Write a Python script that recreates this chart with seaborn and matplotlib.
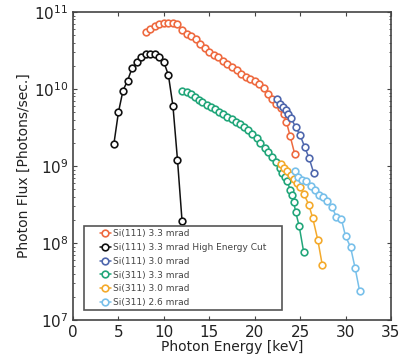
import numpy as np
import pandas as pd
import matplotlib
matplotlib.use("Agg")
import matplotlib.pyplot as plt
import seaborn as sns

# Photon energies [keV] and log10 flux values
si111_33_e = [8.0, 8.5, 9.0, 9.5, 10.0, 10.5, 11.0, 11.5, 12.0, 12.5, 13.0, 13.5, 14.0,
              14.5, 15.0, 15.5, 16.0, 16.5, 17.0, 17.5, 18.0, 18.5, 19.0, 19.5, 20.0,
              20.5, 21.0, 21.5, 21.9, 22.4, 22.9, 23.2, 23.5, 23.9, 24.4]
si111_33_f = [10.74, 10.78, 10.82, 10.85, 10.86, 10.86, 10.86, 10.84, 10.76, 10.72, 10.69,
              10.65, 10.59, 10.53, 10.48, 10.44, 10.41, 10.37, 10.33, 10.29, 10.25, 10.20,
              10.16, 10.13, 10.10, 10.06, 10.01, 9.93, 9.87, 9.81, 9.75, 9.68, 9.57, 9.39, 9.16]

si111_hec_e = [4.5, 5.0, 5.5, 6.0, 6.5, 7.0, 7.5, 8.0, 8.5, 9.0, 9.5, 10.0, 10.5, 11.0, 11.5, 12.0]
si111_hec_f = [9.29, 9.70, 9.98, 10.11, 10.27, 10.35, 10.41, 10.45, 10.46, 10.45, 10.41,
               10.35, 10.18, 9.78, 9.08, 8.29]

si111_30_e = [22.5, 22.8, 23.1, 23.4, 23.7, 24.0, 24.5, 25.0, 25.5, 26.0, 26.5]
si111_30_f = [9.87, 9.81, 9.77, 9.73, 9.68, 9.62, 9.51, 9.40, 9.25, 9.10, 8.91]

si311_33_e = [12.0, 12.5, 13.0, 13.4, 13.9, 14.2, 14.7, 15.15, 15.6, 16.05, 16.5, 17.0,
              17.45, 17.9, 18.4, 18.8, 19.3, 19.75, 20.2, 20.6, 21.1, 21.5, 21.9, 22.4,
              22.8, 23.0, 23.3, 23.6, 23.9, 24.1, 24.3, 24.5, 24.9, 25.4]
si311_33_f = [9.97, 9.96, 9.94, 9.90, 9.86, 9.83, 9.79, 9.77, 9.74, 9.70, 9.67, 9.64,
              9.61, 9.575, 9.545, 9.51, 9.47, 9.42, 9.37, 9.30, 9.24, 9.18, 9.12, 9.05,
              8.97, 8.91, 8.86, 8.80, 8.69, 8.62, 8.53, 8.41, 8.22, 7.88]

si311_30_e = [22.9, 23.25, 23.6, 23.95, 24.3, 24.65, 25.0, 25.4, 25.95, 26.4, 26.95, 27.45]
si311_30_f = [9.03, 8.98, 8.93, 8.88, 8.83, 8.78, 8.73, 8.64, 8.50, 8.32, 8.04, 7.71]

si311_26_e = [24.4, 24.8, 25.2, 25.7, 26.2, 26.6, 27.1, 27.5, 28.0, 28.5, 29.0, 29.55,
              30.0, 30.55, 31.05, 31.55]
si311_26_f = [8.93, 8.86, 8.82, 8.80, 8.74, 8.69, 8.62, 8.60, 8.55, 8.47, 8.34, 8.31,
              8.09, 7.95, 7.68, 7.38]

labels = ["Si(111) 3.3 mrad", "Si(111) 3.3 mrad High Energy Cut", "Si(111) 3.0 mrad",
          "Si(311) 3.3 mrad", "Si(311) 3.0 mrad", "Si(311) 2.6 mrad"]
colors = ["#ee6a40", "#111111", "#4f67ad", "#22a67a", "#f4aa2c", "#78c0ea"]
energies = [si111_33_e, si111_hec_e, si111_30_e, si311_33_e, si311_30_e, si311_26_e]
fluxes = [si111_33_f, si111_hec_f, si111_30_f, si311_33_f, si311_30_f, si311_26_f]

sns.set_style("ticks")
plt.rcParams['font.family'] = ['DejaVu Sans']

fig = plt.figure(figsize=(4.15, 3.63), dpi=100)
ax = fig.add_axes([0.176, 0.118, 0.766, 0.849])

for label, color, e, f in zip(labels, colors, energies, fluxes):
    df = pd.DataFrame({"energy": e, "flux": 10 ** np.array(f)})
    sns.lineplot(data=df, x="energy", y="flux", ax=ax, color=color, label=label,
                 marker="o", markersize=4.8, markerfacecolor="white",
                 markeredgecolor=color, markeredgewidth=1.2, linewidth=1.1,
                 sort=False, estimator=None)

ax.set_yscale("log")
ax.set_xlim(0, 35)
ax.set_ylim(1e7, 1e11)
ax.set_xticks(np.arange(0, 36, 5))
ax.set_xlabel("Photon Energy [keV]", fontsize=10, labelpad=0, color="#222222")
ax.set_ylabel("Photon Flux [Photons/sec.]", fontsize=10, labelpad=2, color="#222222")
ax.tick_params(axis="both", which="both", direction="in", top=True, right=True,
               labelsize=11, color="#444444", labelcolor="#222222")
ax.tick_params(axis="both", which="major", length=3)
ax.tick_params(axis="both", which="minor", length=1.5)
ax.xaxis.set_minor_locator(matplotlib.ticker.NullLocator())
for s in ax.spines.values():
    s.set_color("#444444")
    s.set_linewidth(1.2)

leg = ax.legend(loc="lower left", bbox_to_anchor=(0.02, 0.018), fontsize=6.5,
                handlelength=1.3, handletextpad=0.2, labelspacing=0.52,
                borderpad=0.35, fancybox=False, framealpha=1)
leg.get_frame().set_edgecolor("#555555")
leg.get_frame().set_linewidth(1.2)
for t in leg.get_texts():
    t.set_color("#444444")
# widen the legend box like the reference
leg._legend_box.set_width(192)

fig.savefig("out.png", dpi=100)
